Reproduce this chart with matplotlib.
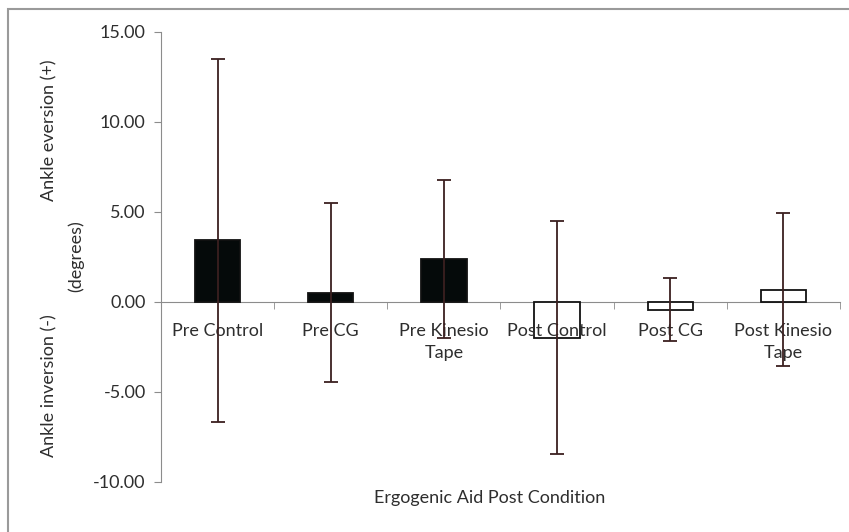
import matplotlib.pyplot as plt
from matplotlib.patches import Rectangle

# values (degrees)
conditions = ["Pre Control", "Pre CG", "Pre Kinesio\nTape",
              "Post Control", "Post CG", "Post Kinesio\nTape"]
means = [3.42, 0.52, 2.39, -1.98, -0.44, 0.68]
sds = [10.1, 4.98, 4.40, 6.48, 1.75, 4.24]
fills = ["#050a0a", "#050a0a", "#050a0a", "white", "white", "white"]

plt.rcParams['font.family'] = ['Lato', 'DejaVu Sans']
TEXT = "#2e2e2e"
AXIS = "#8c8c8c"

fig = plt.figure(figsize=(8.49, 5.32), dpi=100)
W, H = 849, 532
ax = fig.add_axes([161 / W, 1 - 482 / H, (840 - 161) / W, 450 / H])

x = list(range(len(conditions)))
ax.bar(x, means, width=0.4, color=fills, edgecolor="#111111", linewidth=1.3, zorder=2)
ax.errorbar(x, means, yerr=sds, fmt="none", ecolor="#3b2020",
            elinewidth=1.3, capsize=5, capthick=1.3, zorder=3)

ax.set_xlim(-0.5, len(conditions) - 0.5)
ax.set_ylim(-10, 15)
ax.set_yticks([-10, -5, 0, 5, 10, 15])
ax.set_yticklabels(["%.2f" % v for v in [-10, -5, 0, 5, 10, 15]])

# category axis sits on zero, labels drawn over the white bars
ax.set_axisbelow(False)
for side in ["top", "right"]:
    ax.spines[side].set_visible(False)
ax.spines["bottom"].set_position(("data", 0))
ax.spines["bottom"].set_color(AXIS)
ax.spines["left"].set_color(AXIS)
ax.spines["bottom"].set_zorder(1)

ax.set_xticks(x)
ax.set_xticklabels(conditions, linespacing=1.45)
ax.set_xticks([i + 0.5 for i in x], minor=True)
ax.tick_params(axis="x", which="major", length=0, pad=15, labelsize=13, labelcolor=TEXT)
ax.tick_params(axis="x", which="minor", length=5, color=AXIS, direction="out")
ax.tick_params(axis="y", length=5, color=AXIS, pad=6, labelsize=13, labelcolor=TEXT)

fig.text(490 / W, 1 - 498 / H, "Ergogenic Aid Post Condition", ha="center", va="center",
         fontsize=13, color=TEXT)
fig.text(49 / W, 1 - 130 / H, "Ankle eversion (+)", rotation=90, ha="center", va="center",
         fontsize=13, color=TEXT)
fig.text(49 / W, 1 - 386 / H, "Ankle inversion (-)", rotation=90, ha="center", va="center",
         fontsize=13, color=TEXT)
fig.text(76 / W, 1 - 256 / H, "(degrees)", rotation=90, ha="center", va="center",
         fontsize=13, color=TEXT)

# outer chart frame
fig.patches.append(Rectangle((8 / W, -0.1), 1.1, 1.1 - 9 / H, transform=fig.transFigure,
                             fill=False, edgecolor="#9a9a9a", linewidth=1.5))

fig.savefig("out.png", dpi=100)
